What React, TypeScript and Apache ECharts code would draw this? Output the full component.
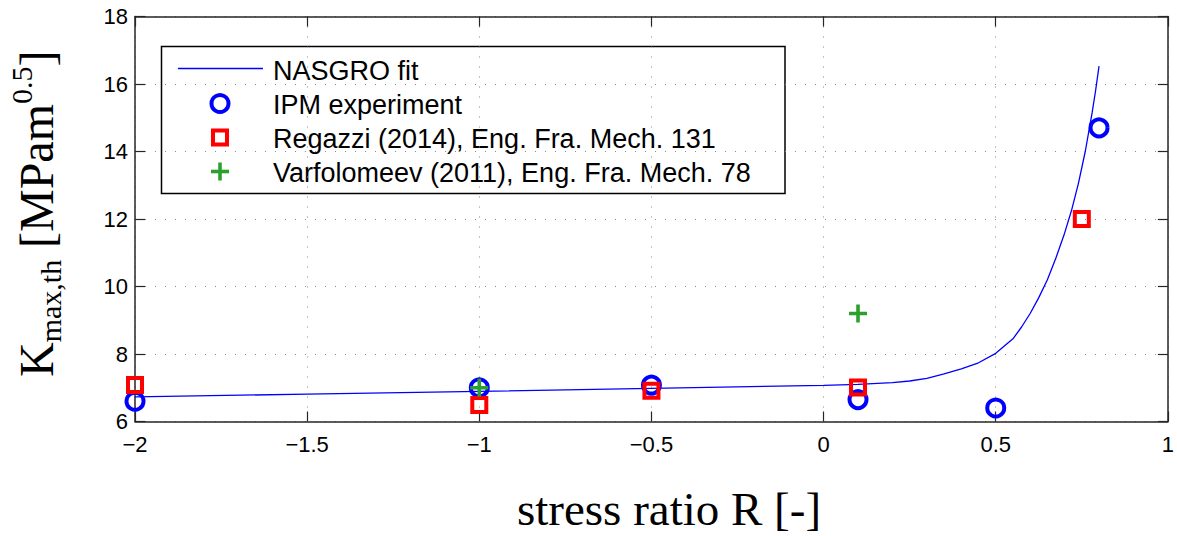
import React, { useEffect, useRef } from "react";
import * as echarts from "echarts";

// NASGRO fit curve
const fitR = [-2, -1.5, -1, -0.5, 0, 0.1, 0.2, 0.25, 0.3, 0.35, 0.4, 0.45, 0.5, 0.55, 0.575, 0.6, 0.625, 0.65, 0.675, 0.7, 0.72, 0.74, 0.76, 0.78, 0.79, 0.8];
const fitK = [6.73, 6.81, 6.89, 6.98, 7.07, 7.1, 7.15, 7.2, 7.28, 7.41, 7.56, 7.74, 8.02, 8.45, 8.8, 9.2, 9.67, 10.2, 10.85, 11.58, 12.25, 13.05, 14.0, 15.15, 15.8, 16.53];

// IPM experiment
const ipmR = [-2, -1, -0.5, 0.1, 0.5, 0.8];
const ipmK = [6.6, 7.0, 7.08, 6.65, 6.4, 14.7];

// Regazzi (2014)
const regR = [-2, -1, -0.5, 0.1, 0.75];
const regK = [7.08, 6.49, 6.91, 7.01, 12.0];

// Varfolomeev (2011)
const varR = [-1, 0.1];
const varK = [7.0, 9.2];

const legendLabels = [
  "NASGRO fit",
  "IPM experiment",
  "Regazzi (2014), Eng. Fra. Mech. 131",
  "Varfolomeev (2011), Eng. Fra. Mech. 78",
];

const xTicks = { min: -2, max: 1, interval: 0.5 };
const yTicks = { min: 6, max: 18, interval: 2 };

const BLUE = "#0000ff";
const RED = "#ff0000";
const GREEN = "#2ca02c";
const SANS = '"Liberation Sans", Arial, Helvetica, sans-serif';
const SERIF = '"Liberation Serif", "Times New Roman", serif';
const PLUS = "path://M0.4,0H0.6V0.4H1V0.6H0.6V1H0.4V0.6H0V0.4H0.4Z";

const zip = (a: number[], b: number[]) => a.map((v, i) => [v, b[i]]);
const fmt = (v: number) => String(v).replace("-", "\u2212");

export default function App() {
  const ref = useRef<HTMLDivElement>(null);
  useEffect(() => {
    document.body.style.margin = "0";
    const chart = echarts.init(ref.current!, null, { renderer: "svg" });
    const axisLine = { show: true, onZero: false, lineStyle: { color: "#262626", width: 1.5 } };
    const axisTick = { show: true, inside: true, length: 10, lineStyle: { color: "#262626", width: 1.2 } };
    const gridLine = { show: true, lineStyle: { color: "#8a8a8a", width: 1, type: [1, 9] as any } };
    const legX = 220;
    const rows = [69.5, 103.5, 137.5, 171.5];
    chart.setOption({
      animation: false,
      grid: { left: 135, right: 4, top: 16.5, bottom: 114.5, containLabel: false },
      xAxis: [
        {
          type: "value", ...xTicks, position: "bottom",
          axisLine, axisTick,
          axisLabel: { formatter: fmt, color: "#000", fontSize: 22, fontFamily: SANS, margin: 12 },
          splitLine: gridLine,
        },
        {
          type: "value", ...xTicks, position: "top",
          axisLine, axisTick,
          axisLabel: { show: false }, splitLine: { show: false },
        },
      ],
      yAxis: [
        {
          type: "value", ...yTicks, position: "left",
          axisLine, axisTick,
          axisLabel: { formatter: fmt, color: "#000", fontSize: 22, fontFamily: SANS, margin: 7 },
          splitLine: gridLine,
        },
        {
          type: "value", ...yTicks, position: "right",
          axisLine, axisTick,
          axisLabel: { show: false }, splitLine: { show: false },
        },
      ],
      series: [
        {
          name: legendLabels[0], type: "line", data: zip(fitR, fitK), showSymbol: false,
          lineStyle: { color: BLUE, width: 1.3 }, z: 2,
        },
        {
          name: legendLabels[1], type: "scatter", data: zip(ipmR, ipmK), symbol: "circle", symbolSize: 17,
          itemStyle: { color: "none", borderColor: BLUE, borderWidth: 4, opacity: 1 }, clip: false, z: 3,
        },
        {
          name: legendLabels[2], type: "scatter", data: zip(regR, regK), symbol: "rect", symbolSize: 14,
          itemStyle: { color: "none", borderColor: RED, borderWidth: 4, opacity: 1 }, clip: false, z: 4,
        },
        {
          name: legendLabels[3], type: "scatter", data: zip(varR, varK), symbol: PLUS, symbolSize: 18,
          itemStyle: { color: GREEN, opacity: 1 }, clip: false, z: 5,
        },
      ],
      graphic: [
        {
          type: "group", z: 100,
          children: [
            { type: "rect", shape: { x: 161.5, y: 46.5, width: 623.5, height: 147 }, style: { fill: "#fff", stroke: "#000", lineWidth: 1.5 } },
            { type: "line", shape: { x1: 178, y1: 68.5, x2: 263, y2: 68.5 }, style: { stroke: BLUE, lineWidth: 1.3 } },
            { type: "circle", shape: { cx: legX, cy: rows[1], r: 8.5 }, style: { fill: "none", stroke: BLUE, lineWidth: 4 } },
            { type: "rect", shape: { x: legX - 7, y: rows[2] - 7, width: 14, height: 14 }, style: { fill: "none", stroke: RED, lineWidth: 4 } },
            { type: "line", shape: { x1: legX - 9, y1: rows[3], x2: legX + 9, y2: rows[3] }, style: { stroke: GREEN, lineWidth: 3.6 } },
            { type: "line", shape: { x1: legX, y1: rows[3] - 9, x2: legX, y2: rows[3] + 9 }, style: { stroke: GREEN, lineWidth: 3.6 } },
            ...legendLabels.map((t, i) => ({
              type: "text", x: 273, y: rows[i] + 1,
              style: { text: t, fontSize: 27, fontFamily: SANS, fill: "#000", align: "left", verticalAlign: "middle" },
            })),
          ],
        },
        {
          type: "text", x: 669, y: 509,
          style: { text: "stress ratio R [-]", fontSize: 47, fontFamily: SERIF, fill: "#000", align: "center", verticalAlign: "middle" },
        },
        {
          type: "group", x: 53, y: 377, rotation: Math.PI / 2,
          children: [
            { type: "text", x: 0, y: -16.3, style: { text: "K", fontSize: 48, fontFamily: SERIF, fill: "#000", verticalAlign: "middle" } },
            { type: "text", x: 34.7, y: -2.1, style: { text: "max,th", fontSize: 30, fontFamily: SERIF, fill: "#000", verticalAlign: "middle" } },
            { type: "text", x: 129, y: -16.3, style: { text: "[MPam", fontSize: 48, fontFamily: SERIF, fill: "#000", verticalAlign: "middle" } },
            { type: "text", x: 273, y: -31.1, style: { text: "0.5", fontSize: 30, fontFamily: SERIF, fill: "#000", verticalAlign: "middle" } },
            { type: "text", x: 310.5, y: -16.3, style: { text: "]", fontSize: 48, fontFamily: SERIF, fill: "#000", verticalAlign: "middle" } },
          ],
        },
      ],
    });
    return () => chart.dispose();
  }, []);
  return <div ref={ref} style={{ width: 1177, height: 536 }} />;
}
